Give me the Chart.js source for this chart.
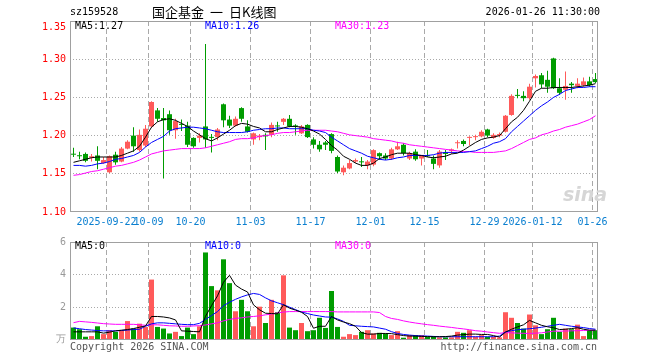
<!DOCTYPE html>
<html><head><meta charset="utf-8">
<script src="https://cdn.jsdelivr.net/npm/chart.js@4.4.1/dist/chart.umd.min.js"></script>
<style>
html,body{margin:0;padding:0;background:#fff;}
#wrap{position:relative;width:660px;height:360px;overflow:hidden;font-family:"DejaVu Sans Mono",monospace;font-size:10px;color:#000;}
#wrap canvas{position:absolute;left:0;}
.t{position:absolute;white-space:nowrap;line-height:12px;}
.cj{font-family:'Noto Sans CJK SC';font-size:13px;line-height:16px;top:4px;}
</style></head><body>
<div id="wrap">
<canvas id="pc" width="660" height="232" style="top:0;width:660px;height:232px"></canvas>
<canvas id="vc" width="660" height="128" style="top:232px;width:660px;height:128px"></canvas>
<div class="t" style="left:70px;top:6px">sz159528</div>
<div class="t cj" style="left:152px">国企基金</div>
<div class="t cj" style="left:210px">一</div>
<div class="t cj" style="left:229px">日K线图</div>
<div class="t" style="right:60px;top:6px">2026-01-26 11:30:00</div>
<div class="t" id="m5" style="left:75px;top:20px"></div>
<div class="t" id="m10" style="left:205px;top:20px;color:#0000ff"></div>
<div class="t" id="m30" style="left:335px;top:20px;color:#ff00ff"></div>
<div class="t" style="right:594px;top:21px;color:#ff0000">1.35</div>
<div class="t" style="left:75px;top:240px">MA5:0</div>
<div class="t" style="left:205px;top:240px;color:#0000ff">MA10:0</div>
<div class="t" style="left:335px;top:240px;color:#ff00ff">MA30:0</div>
<div class="t" style="right:594px;top:333px;color:#999">万</div>
<div class="t" style="left:70px;top:341px;color:#555">Copyright 2026 SINA.COM</div>
<div class="t" style="right:63px;top:341px;color:#555">http://finance.sina.com.cn</div>
<div class="t" style="left:563px;top:184px;font-family:'DejaVu Sans';font-style:italic;font-weight:bold;font-size:19px;line-height:20px;color:#d6d6d6">sina</div>
</div>
<script>
const dates = ['2025-09-12','2025-09-15','2025-09-16','2025-09-17','2025-09-18','2025-09-19','2025-09-22','2025-09-23','2025-09-24','2025-09-25','2025-09-26','2025-09-29','2025-09-30',
'2025-10-09','2025-10-10','2025-10-13','2025-10-14','2025-10-15','2025-10-16','2025-10-17','2025-10-20','2025-10-21','2025-10-22','2025-10-23','2025-10-24','2025-10-27','2025-10-28','2025-10-29','2025-10-30','2025-10-31',
'2025-11-03','2025-11-04','2025-11-05','2025-11-06','2025-11-07','2025-11-10','2025-11-11','2025-11-12','2025-11-13','2025-11-14','2025-11-17','2025-11-18','2025-11-19','2025-11-20','2025-11-21','2025-11-24','2025-11-25','2025-11-26','2025-11-27','2025-11-28',
'2025-12-01','2025-12-02','2025-12-03','2025-12-04','2025-12-05','2025-12-08','2025-12-09','2025-12-10','2025-12-11','2025-12-15','2025-12-16','2025-12-17','2025-12-18','2025-12-19','2025-12-22','2025-12-23','2025-12-24','2025-12-25','2025-12-26',
'2025-12-29','2025-12-30','2025-12-31','2026-01-05','2026-01-06','2026-01-07','2026-01-08','2026-01-09','2026-01-12','2026-01-13','2026-01-14','2026-01-15','2026-01-16','2026-01-19','2026-01-20','2026-01-21','2026-01-22','2026-01-23','2026-01-26'];

const opens = [1.176,1.174,1.176,1.171,1.174,1.164,1.152,1.175,1.166,1.183,
1.200,1.181,1.187,1.212,1.233,1.223,1.228,1.207,1.215,1.213,
1.197,1.197,1.212,1.198,1.198,1.241,1.221,1.213,1.236,1.212,
1.195,1.198,1.201,1.201,1.213,1.218,1.222,1.213,1.203,1.214,
1.195,1.188,1.191,1.202,1.172,1.152,1.157,1.166,1.166,1.161,
1.162,1.177,1.174,1.170,1.182,1.188,1.170,1.179,1.170,1.174,
1.170,1.161,1.178,1.180,1.190,1.193,1.197,1.198,1.199,1.208,
1.197,1.200,1.205,1.227,1.253,1.252,1.249,1.275,1.279,1.273,
1.301,1.262,1.260,1.268,1.265,1.266,1.271,1.274];
const closes = [1.175,1.173,1.167,1.173,1.167,1.168,1.173,1.165,1.183,1.192,
1.186,1.201,1.209,1.244,1.222,1.220,1.207,1.219,1.214,1.188,
1.186,1.200,1.195,1.197,1.208,1.220,1.213,1.222,1.222,1.205,
1.203,1.200,1.199,1.214,1.212,1.222,1.212,1.212,1.212,1.198,
1.188,1.182,1.188,1.180,1.153,1.158,1.164,1.168,1.165,1.166,
1.181,1.173,1.170,1.182,1.186,1.177,1.177,1.169,1.174,1.173,
1.163,1.179,1.176,1.182,1.191,1.189,1.198,1.199,1.205,1.200,
1.201,1.202,1.226,1.252,1.252,1.249,1.264,1.278,1.267,1.264,
1.262,1.256,1.265,1.266,1.268,1.271,1.266,1.270];
const highs = [1.184,1.179,1.178,1.176,1.186,1.172,1.174,1.179,1.185,1.194,
1.211,1.208,1.214,1.245,1.236,1.236,1.233,1.222,1.221,1.218,
1.198,1.203,1.320,1.202,1.210,1.242,1.226,1.225,1.237,1.220,
1.204,1.202,1.203,1.217,1.218,1.223,1.227,1.215,1.214,1.215,
1.198,1.193,1.193,1.203,1.174,1.161,1.168,1.170,1.172,1.168,
1.182,1.178,1.177,1.184,1.192,1.190,1.179,1.182,1.174,1.181,
1.174,1.181,1.181,1.183,1.194,1.195,1.199,1.201,1.207,1.209,
1.203,1.204,1.227,1.254,1.261,1.258,1.268,1.280,1.282,1.285,
1.302,1.275,1.284,1.270,1.275,1.276,1.277,1.282];
const lows = [1.172,1.169,1.165,1.166,1.156,1.163,1.151,1.162,1.165,1.182,
1.179,1.179,1.185,1.210,1.218,1.144,1.201,1.196,1.206,1.185,
1.184,1.191,1.184,1.178,1.194,1.211,1.210,1.212,1.218,1.204,
1.188,1.194,1.181,1.198,1.205,1.214,1.211,1.201,1.202,1.197,
1.183,1.179,1.181,1.177,1.151,1.148,1.156,1.164,1.159,1.156,
1.160,1.168,1.168,1.168,1.181,1.174,1.168,1.167,1.161,1.172,
1.156,1.158,1.168,1.176,1.183,1.186,1.187,1.194,1.198,1.198,
1.196,1.198,1.204,1.226,1.249,1.245,1.247,1.263,1.262,1.256,
1.261,1.253,1.247,1.256,1.262,1.264,1.264,1.269];
const ma5 = [1.165,1.167,1.169,1.171,1.172,1.172,1.172,1.172,1.174,1.177,
1.180,1.186,1.198,1.211,1.218,1.221,1.222,1.220,1.216,1.212,
1.206,1.201,1.196,1.193,1.197,1.202,1.207,1.213,1.216,1.215,
1.212,1.210,1.205,1.205,1.208,1.210,1.212,1.212,1.211,1.209,
1.206,1.202,1.195,1.187,1.181,1.173,1.169,1.164,1.161,1.161,
1.164,1.170,1.172,1.175,1.177,1.177,1.177,1.175,1.174,1.172,
1.171,1.172,1.173,1.176,1.177,1.181,1.186,1.191,1.195,1.197,
1.198,1.200,1.209,1.218,1.224,1.233,1.245,1.258,1.262,1.262,
1.263,1.263,1.263,1.263,1.264,1.265,1.266,1.268];
const ma10 = [1.161,1.161,1.160,1.161,1.163,1.164,1.166,1.169,1.170,1.172,
1.174,1.178,1.185,1.191,1.195,1.199,1.206,1.209,1.210,1.211,
1.211,1.210,1.209,1.207,1.205,1.204,1.204,1.204,1.204,1.205,
1.207,1.208,1.209,1.209,1.210,1.210,1.209,1.209,1.209,1.209,
1.207,1.206,1.204,1.198,1.193,1.188,1.183,1.180,1.177,1.173,
1.171,1.169,1.168,1.169,1.171,1.172,1.174,1.174,1.174,1.174,
1.175,1.177,1.178,1.178,1.178,1.178,1.179,1.180,1.183,1.186,
1.190,1.192,1.196,1.205,1.212,1.219,1.226,1.233,1.239,1.244,
1.250,1.254,1.259,1.261,1.263,1.263,1.264,1.264];
const ma30 = [1.148,1.149,1.151,1.153,1.154,1.156,1.158,1.160,1.161,1.163,
1.165,1.168,1.172,1.176,1.178,1.180,1.181,1.182,1.183,1.183,
1.183,1.183,1.184,1.186,1.188,1.190,1.192,1.195,1.196,1.196,
1.197,1.199,1.200,1.201,1.203,1.204,1.204,1.205,1.206,1.207,
1.207,1.207,1.207,1.206,1.205,1.203,1.201,1.200,1.199,1.198,
1.196,1.195,1.194,1.193,1.191,1.190,1.188,1.187,1.186,1.185,
1.184,1.183,1.182,1.181,1.180,1.179,1.179,1.178,1.178,1.178,
1.178,1.179,1.180,1.183,1.187,1.191,1.195,1.197,1.201,1.203,
1.206,1.208,1.211,1.213,1.215,1.218,1.221,1.226];
const volume = [0.76,0.66,0.20,0.24,0.84,0.36,0.60,0.50,0.60,1.16,
0.70,1.00,0.80,3.70,0.80,0.70,0.40,0.50,0.24,0.76,
0.36,0.84,5.36,3.30,3.04,4.94,3.48,1.76,2.46,1.76,
0.84,2.04,1.04,2.46,1.70,3.96,0.76,0.60,1.04,0.54,
0.60,1.36,0.74,3.00,0.80,0.20,0.36,0.30,0.50,0.60,
0.40,0.44,0.40,0.30,0.54,0.14,0.30,0.30,0.30,0.20,
0.24,0.16,0.16,0.16,0.50,0.44,0.60,0.20,0.30,0.20,
0.20,0.16,1.70,1.36,1.04,0.70,1.56,0.90,0.36,0.66,
1.36,0.50,0.70,0.66,0.94,0.24,0.60,0.60];
const vma5 = [0.50,0.50,0.50,0.50,0.50,0.42,0.48,0.56,0.60,0.64,
0.70,0.78,0.86,1.44,1.44,1.41,1.35,1.23,0.56,0.54,
0.52,0.50,1.45,2.10,2.70,3.54,3.96,3.36,3.12,2.94,
2.15,1.85,1.64,1.62,1.60,2.16,1.95,1.83,1.70,1.44,
0.72,0.84,0.84,1.44,1.23,1.10,1.00,0.84,0.45,0.36,
0.36,0.40,0.40,0.39,0.33,0.27,0.24,0.24,0.22,0.21,
0.20,0.20,0.21,0.24,0.30,0.33,0.36,0.36,0.34,0.34,
0.27,0.18,0.48,0.66,0.80,0.93,1.20,1.05,0.90,0.81,
0.75,0.64,0.66,0.70,0.75,0.66,0.60,0.60];
const vma10 = [0.74,0.69,0.64,0.61,0.58,0.56,0.56,0.56,0.58,0.61,
0.64,0.66,0.84,0.99,1.05,1.05,1.02,0.99,0.96,0.94,
0.94,1.02,1.26,1.50,1.74,2.10,2.31,2.49,2.64,2.76,
2.85,2.79,2.58,2.40,2.28,2.16,2.01,1.86,1.71,1.62,
1.53,1.47,1.41,1.40,1.29,1.14,0.90,0.87,0.84,0.82,
0.80,0.73,0.66,0.51,0.40,0.34,0.30,0.27,0.25,0.24,
0.22,0.20,0.20,0.20,0.20,0.20,0.20,0.20,0.20,0.20,
0.20,0.24,0.50,0.57,0.63,0.66,0.69,0.73,0.78,0.84,
0.90,0.96,0.90,0.84,0.80,0.76,0.70,0.66];
const vma30 = [1.06,1.14,1.11,1.08,1.04,1.00,0.98,0.96,0.96,0.96,
0.96,0.93,0.90,0.93,0.93,0.90,0.87,0.86,0.84,0.84,
0.86,0.88,0.92,0.99,1.05,1.17,1.26,1.32,1.36,1.41,
1.44,1.48,1.54,1.59,1.66,1.71,1.74,1.74,1.74,1.74,
1.74,1.74,1.74,1.74,1.72,1.72,1.72,1.72,1.72,1.72,
1.72,1.68,1.44,1.32,1.26,1.17,1.10,1.04,0.99,0.94,
0.90,0.85,0.81,0.77,0.72,0.68,0.63,0.57,0.54,0.49,
0.45,0.41,0.45,0.44,0.42,0.41,0.40,0.42,0.44,0.49,
0.54,0.54,0.55,0.56,0.57,0.58,0.60,0.60];

const tickDates = ['2025-09-22','2025-10-09','2025-10-20','2025-11-03','2025-11-17','2025-12-01','2025-12-15','2025-12-29','2026-01-12','2026-01-26'];
const tickText = ['2025-09-22','10-09','10-20','11-03','11-17','12-01','12-15','12-29','2026-01-12','01-26'];
const priceTicks = [1.10,1.15,1.20,1.25,1.30,1.35];
const volTicks = [0,2,4,6];

const RED = '#ff5a5a', GREEN = '#009c00', GRID = '#a9a9a9', FRAME = '#a0a0a0';
const FONT = {family:'"DejaVu Sans Mono", monospace', size:10};
const N = dates.length;
const SHIFT = 1/12;
const colors = opens.map((o,i)=> closes[i] >= o ? RED : GREEN);
const tickIdx = tickDates.map(d => dates.indexOf(d));

document.getElementById('m5').textContent = 'MA5:' + ma5[N-1].toFixed(2);
document.getElementById('m10').textContent = 'MA10:' + ma10[N-1].toFixed(2);
document.getElementById('m30').textContent = 'MA30:' + ma30[N-1].toFixed(2);

const frame = {id:'frame', afterDraw(c){const a=c.chartArea, x=c.ctx; x.save(); x.setLineDash([]); x.strokeStyle=FRAME; x.lineWidth=1; x.strokeRect(a.left+0.5,a.top+0.5,a.right-a.left-1,a.bottom-a.top-1); x.restore();}};

function xScale(show){
  return {type:'linear', min:-0.5-SHIFT, max:N-0.5-SHIFT, offset:false,
    afterBuildTicks:s=>{ s.ticks = tickIdx.map(i=>({value:i-0.5})); },
    afterFit:s=>{ s.height = show ? 20 : 0; },
    ticks:{display:show, autoSkip:false, maxRotation:0, minRotation:0, padding:4, color:'#0a7fd0', font:FONT,
      callback:(v,k)=>tickText[k]},
    grid:{offset:false, drawTicks:false, color:GRID, lineWidth:1},
    border:{display:false, dash:[5,3]}};
}
function line(arr, color, order){
  return {type:'line', data:arr.map((v,i)=>({x:i,y:v})), borderColor:color, borderWidth:1, pointRadius:0, fill:false, tension:0, order:order};
}

Chart.defaults.font.family = FONT.family;

new Chart(document.getElementById('pc'), {
  type:'bar',
  data:{datasets:[
    line(ma5,'#000000',1), line(ma10,'#0000ff',2), line(ma30,'#ff00ff',3),
    {type:'bar', data:lows.map((v,i)=>({x:i,y:[v,highs[i]]})), backgroundColor:colors, barThickness:1, grouped:false, inflateAmount:0, borderWidth:0, order:5},
    {type:'bar', data:opens.map((v,i)=>({x:i,y:[v,closes[i]]})), backgroundColor:colors, barThickness:5, grouped:false, inflateAmount:0, borderWidth:0, minBarLength:1, order:4}
  ]},
  options:{responsive:false, animation:false, devicePixelRatio:1,
    layout:{padding:{left:0,right:62,top:21,bottom:0}},
    plugins:{legend:{display:false}, tooltip:{enabled:false}},
    scales:{
      x:xScale(true),
      y:{type:'linear', min:priceTicks[0], max:priceTicks[priceTicks.length-1],
        afterBuildTicks:s=>{ s.ticks = priceTicks.map(v=>({value:v})); },
        afterFit:s=>{ s.width = 70; },
        ticks:{color:'#ff0000', font:FONT, padding:4, callback:v=> v > 1.349 ? '' : v.toFixed(2)},
        grid:{drawTicks:false, color:ctx=> (ctx.tick && (ctx.tick.value < 1.1001 || ctx.tick.value > 1.3499)) ? 'rgba(0,0,0,0)' : GRID},
        border:{display:false, dash:[1,2]}}
    }},
  plugins:[frame]
});

new Chart(document.getElementById('vc'), {
  type:'bar',
  data:{datasets:[
    line(vma5,'#000000',1), line(vma10,'#0000ff',2), line(vma30,'#ff00ff',3),
    {type:'bar', data:volume.map((v,i)=>({x:i,y:v})), backgroundColor:colors, barThickness:5, grouped:false, inflateAmount:0, borderWidth:0, order:4}
  ]},
  options:{responsive:false, animation:false, devicePixelRatio:1,
    layout:{padding:{left:0,right:62,top:8,bottom:20}},
    plugins:{legend:{display:false}, tooltip:{enabled:false}},
    scales:{
      x:xScale(false),
      y:{type:'linear', min:0, max:6,
        afterBuildTicks:s=>{ s.ticks = volTicks.map(v=>({value:v})); },
        afterFit:s=>{ s.width = 70; },
        ticks:{color:'#999999', font:FONT, padding:4, callback:v=> v === 0 ? '' : String(v)},
        grid:{drawTicks:false, color:ctx=> (ctx.tick && (ctx.tick.value === 0 || ctx.tick.value === 6)) ? 'rgba(0,0,0,0)' : GRID},
        border:{display:false, dash:[1,2]}}
    }},
  plugins:[frame]
});
</script>
</body></html>
